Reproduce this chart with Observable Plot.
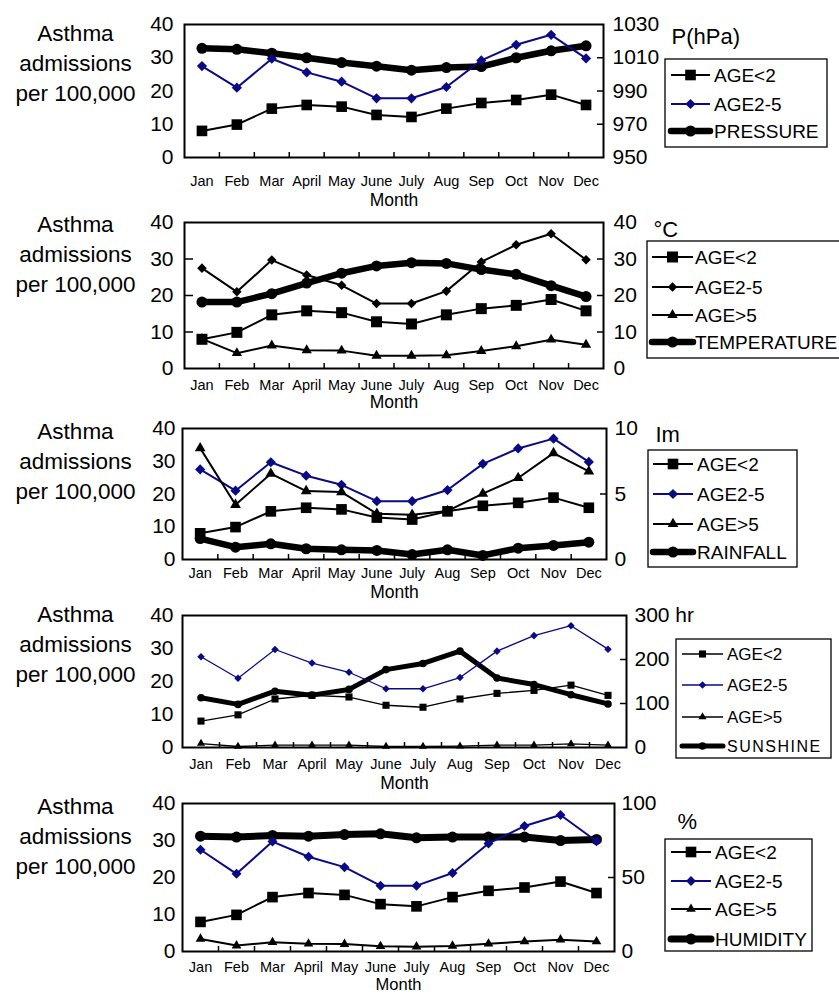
<!DOCTYPE html>
<html><head><meta charset="utf-8">
<script src="https://cdn.jsdelivr.net/npm/d3@7"></script>
<script src="https://cdn.jsdelivr.net/npm/@observablehq/plot@0.6"></script>
<style>
body{margin:0;background:#fff;font-family:"Liberation Sans",Arial,sans-serif;}
#root{position:relative;width:839px;height:994px;overflow:hidden;background:#fff;}
#root svg{position:absolute;left:0;}
</style></head><body><div id="root"></div>
<script>
// ---- data ----
const months = ["Jan","Feb","Mar","April","May","June","July","Aug","Sep","Oct","Nov","Dec"];
const ageUnder2 = [8.0, 9.9, 14.7, 15.8, 15.3, 12.8, 12.2, 14.7, 16.4, 17.3, 18.9, 15.8];
const age2to5   = [27.5, 21.0, 29.7, 25.6, 22.8, 17.8, 17.8, 21.2, 29.2, 33.9, 36.9, 29.8];
const ageOver5Temp = [8.1, 4.2, 6.3, 5.0, 4.9, 3.5, 3.5, 3.6, 4.8, 6.1, 7.9, 6.5];
const ageOver5Rain = [34.0, 16.7, 26.2, 20.9, 20.6, 14.0, 13.7, 14.8, 20.1, 24.9, 32.5, 26.9];
const ageOver5Sun  = [1.2, 0.3, 0.7, 0.7, 0.7, 0.3, 0.3, 0.4, 0.7, 0.7, 1.1, 0.7];
const ageOver5Hum  = [3.4, 1.6, 2.5, 2.1, 2.0, 1.4, 1.3, 1.5, 2.1, 2.7, 3.2, 2.7];
const pressure    = [1015.7, 1015.1, 1012.7, 1010.0, 1007.1, 1004.9, 1002.5, 1004.1, 1004.7, 1010.0, 1014.2, 1017.2];
const temperature = [18.2, 18.2, 20.5, 23.4, 26.1, 28.1, 29.0, 28.8, 27.1, 25.8, 22.7, 19.7];
const rainfall    = [1.6, 0.94, 1.2, 0.82, 0.74, 0.69, 0.38, 0.74, 0.31, 0.86, 1.07, 1.32];
const sunshine    = [113, 98, 128, 119, 132, 177, 191, 219, 158, 143, 120, 99];
const humidity    = [77.9, 77.3, 78.4, 77.9, 79.0, 79.5, 76.8, 77.3, 77.3, 77.3, 75.0, 75.7];
const leftTicks = [0, 10, 20, 30, 40];
const pressureTicks = [950, 970, 990, 1010, 1030];
const tempTicks = [0, 10, 20, 30, 40];
const rainTicks = [0, 5, 10];
const sunTicks = [0, 100, 200, 300];
const humTicks = [0, 50, 100];
const titleText = "Asthma\nadmissions\nper 100,000";

// ---- layout / style ----
const NAVY = "#0a0a84";
const FONT = "'Liberation Sans', Arial, sans-serif";
const panels = [
  {ft:24, fb:157, fl:184, fr:603, lpad:11, rpad:9, mpad:18, monthDy:43, monthFs:17.5, titleY:31,
   sec:pressure, secTicks:pressureTicks, secMin:950, secMax:1030, secName:"PRESSURE",
   unit:"P(hPa)", unitX:671, unitY:36, leftIn:false,
   thin:2, thick:6.5, rc:5.5,
   series:[{name:"AGE<2", data:ageUnder2, symbol:"square", r:6, color:"black"},
           {name:"AGE2-5", data:age2to5, symbol:"diamond2", r:4.6, color:NAVY}],
   legend:{x0:665, x1:827, y0:59, y1:147, rows:[75,104,131], lx0:671, lx1:710, tx:714, fs:19}},
  {ft:222, fb:368, fl:184, fr:603, lpad:11, rpad:10, mpad:11, monthDy:34, monthFs:17.5, titleY:222,
   sec:temperature, secTicks:tempTicks, secMin:0, secMax:40, secName:"TEMPERATURE",
   unit:"°C", unitX:653, unitY:229, leftIn:true,
   thin:2, thick:6.5, rc:5.5,
   series:[{name:"AGE<2", data:ageUnder2, symbol:"square", r:6.2, color:"black"},
           {name:"AGE2-5", data:age2to5, symbol:"diamond2", r:4.3, color:"black"},
           {name:"AGE>5", data:ageOver5Temp, symbol:"triangle", r:3.8, color:"black"}],
   legend:{x0:647, x1:850, y0:241, y1:358, rows:[257,287,315,342], lx0:652, lx1:693, tx:695, fs:19}},
  {ft:428, fb:559, fl:182, fr:606, lpad:7, rpad:8, mpad:8, monthDy:33, monthFs:17.5, titleY:429,
   sec:rainfall, secTicks:rainTicks, secMin:0, secMax:10, secName:"RAINFALL",
   unit:"Im", unitX:655, unitY:434, leftIn:false,
   thin:2, thick:6.5, rc:5.5,
   series:[{name:"AGE<2", data:ageUnder2, symbol:"square", r:6, color:"black"},
           {name:"AGE2-5", data:age2to5, symbol:"diamond2", r:4.6, color:NAVY},
           {name:"AGE>5", data:ageOver5Rain, symbol:"triangle", r:4, color:"black"}],
   legend:{x0:648, x1:797, y0:450, y1:567, rows:[464,494,524,552], lx0:653, lx1:693, tx:697, fs:19}},
  {ft:615, fb:747, fl:182, fr:626, lpad:9, rpad:8, mpad:11, monthDy:36, monthFs:17.5, titleY:612,
   sec:sunshine, secTicks:sunTicks, secMin:0, secMax:300, secName:"SUNSHINE",
   unit:null, leftIn:false, unitSuffix:{300:" hr"},
   thin:1.3, thick:5, rc:3.8,
   series:[{name:"AGE<2", data:ageUnder2, symbol:"square", r:4, color:"black"},
           {name:"AGE2-5", data:age2to5, symbol:"diamond2", r:3.4, color:NAVY},
           {name:"AGE>5", data:ageOver5Sun, symbol:"triangle", r:3, color:"black"}],
   legend:{x0:676, x1:831, y0:639, y1:758, rows:[654,685,717,746], lx0:682, lx1:723, tx:727, fs:17, lastSpacing:1.5}},
  {ft:803, fb:951, fl:182, fr:614, lpad:7, rpad:7, mpad:10, monthDy:33.5, monthFs:16.5, titleY:804,
   sec:humidity, secTicks:humTicks, secMin:0, secMax:100, secName:"HUMIDITY",
   unit:"%", unitX:677, unitY:821, leftIn:false,
   thin:2, thick:7, rc:5.5,
   series:[{name:"AGE<2", data:ageUnder2, symbol:"square", r:6, color:"black"},
           {name:"AGE2-5", data:age2to5, symbol:"diamond2", r:4.5, color:NAVY},
           {name:"AGE>5", data:ageOver5Hum, symbol:"triangle", r:3.6, color:"black"}],
   legend:{x0:665, x1:812, y0:839, y1:951, rows:[852,881,909,939], lx0:671, lx1:711, tx:715, fs:19}}
];

const symbolMap = {square:d3.symbolSquare, diamond2:d3.symbolDiamond2, triangle:d3.symbolTriangle, circle:d3.symbolCircle};
const idx = d3.range(12);
const root = document.getElementById("root");

panels.forEach(p => {
  const MT = 30, MB = 48;
  const top = p.ft - MT;
  const height = (p.fb - p.ft) + MT + MB;
  const toPrim = v => (v - p.secMin) / (p.secMax - p.secMin) * 40;
  const pxPerUnitY = (p.fb - p.ft) / 40;
  const bw = (p.fr - p.fl) / 12;
  const secLabel = v => {
    const t = p.secTicks.find(t => Math.abs(toPrim(t) - v) < 1e-6);
    return String(t) + ((p.unitSuffix && p.unitSuffix[t]) || "");
  };
  const inner = leftTicks.filter(t => t > 0 && t < 40);
  const innerSec = p.secTicks.map(toPrim).filter(t => t > 1e-6 && t < 40 - 1e-6);
  const marks = [
    Plot.line(idx, {x: i => i, y: i => toPrim(p.sec[i]), stroke: "black", strokeWidth: p.thick, strokeLinejoin: "round"}),
    Plot.dot(idx, {x: i => i, y: i => toPrim(p.sec[i]), symbol: "circle", r: p.rc, fill: "black", stroke: "none"}),
  ];
  p.series.forEach(s => {
    marks.push(Plot.line(idx, {x: i => i, y: i => s.data[i], stroke: s.color, strokeWidth: p.thin}));
    marks.push(Plot.dot(idx, {x: i => i, y: i => s.data[i], symbol: s.symbol, r: s.r, fill: s.color, stroke: "none"}));
  });
  marks.push(
    Plot.frame({stroke: "black", strokeWidth: 2}),
    Plot.ruleX(d3.range(11).map(i => i + 0.5), {y1: 0, y2: 5 / pxPerUnitY, stroke: "black", strokeWidth: 1.5}),
    Plot.ruleY(innerSec, {x1: 11.5 - 6 / bw, x2: 11.5, stroke: "black", strokeWidth: 1.5}),
    Plot.axisY(leftTicks, {anchor: "left", tickSize: 0, tickPadding: p.lpad, fontSize: 21, label: null}),
    Plot.axisY(p.secTicks.map(toPrim), {anchor: "right", tickSize: 0, tickPadding: p.rpad, fontSize: 21, label: null, tickFormat: secLabel}),
    Plot.axisX(idx, {anchor: "bottom", tickSize: 0, tickPadding: p.mpad, fontSize: 14.5, label: null, tickFormat: i => months[i]}),
    Plot.text(["Month"], {frameAnchor: "bottom", dy: p.monthDy, fontSize: p.monthFs, lineAnchor: "middle"}),
    Plot.text([titleText], {frameAnchor: "top-left", textAnchor: "middle", lineAnchor: "middle", lineHeight: 30/22.5,
      dx: 75 - p.fl, dy: (p.titleY + 30) - p.ft, fontSize: 22.5})
  );
  if (p.leftIn) marks.push(Plot.ruleY(inner, {x1: -0.5, x2: -0.5 + 9 / bw, stroke: "black", strokeWidth: 1.5}));
  if (p.unit) marks.push(Plot.text([p.unit], {frameAnchor: "top-right", textAnchor: "start", lineAnchor: "middle",
      dx: p.unitX - p.fr, dy: p.unitY - p.ft, fontSize: 22}));

  const svg = Plot.plot({
    width: 839, height,
    marginTop: MT, marginBottom: MB, marginLeft: p.fl, marginRight: 839 - p.fr,
    x: {domain: [-0.5, 11.5]},
    y: {domain: [0, 40]},
    style: {fontFamily: FONT, background: "transparent", overflow: "visible", color: "black"},
    marks
  });
  svg.style.top = top + "px";

  // legend
  const L = p.legend;
  const g = d3.select(svg).append("g").attr("font-family", FONT).attr("text-anchor", "start");
  g.append("rect").attr("x", L.x0).attr("y", L.y0 - top).attr("width", L.x1 - L.x0).attr("height", L.y1 - L.y0)
    .attr("fill", "white").attr("stroke", "black").attr("stroke-width", 1.3);
  const entries = p.series.map(s => ({name: s.name, color: s.color, symbol: s.symbol, r: s.r, w: p.thin}))
    .concat([{name: p.secName, color: "black", symbol: "circle", r: p.rc, w: p.thick, last: true}]);
  entries.forEach((e, k) => {
    const y = L.rows[k] - top;
    g.append("line").attr("x1", L.lx0).attr("x2", L.lx1).attr("y1", y).attr("y2", y)
      .attr("stroke", e.color).attr("stroke-width", e.w).attr("stroke-linecap", e.last ? "round" : "butt");
    g.append("path").attr("d", d3.symbol(symbolMap[e.symbol], Math.PI * e.r * e.r)())
      .attr("transform", `translate(${(L.lx0 + L.lx1) / 2},${y})`).attr("fill", e.color);
    const t = g.append("text").attr("x", L.tx).attr("y", y).attr("dy", "0.35em").attr("text-anchor", "start")
      .attr("font-size", L.fs).attr("fill", "black").text(e.name);
    if (e.last && L.lastSpacing) t.attr("letter-spacing", L.lastSpacing).attr("font-size", 16);
  });
  root.appendChild(svg);
});
</script></body></html>
